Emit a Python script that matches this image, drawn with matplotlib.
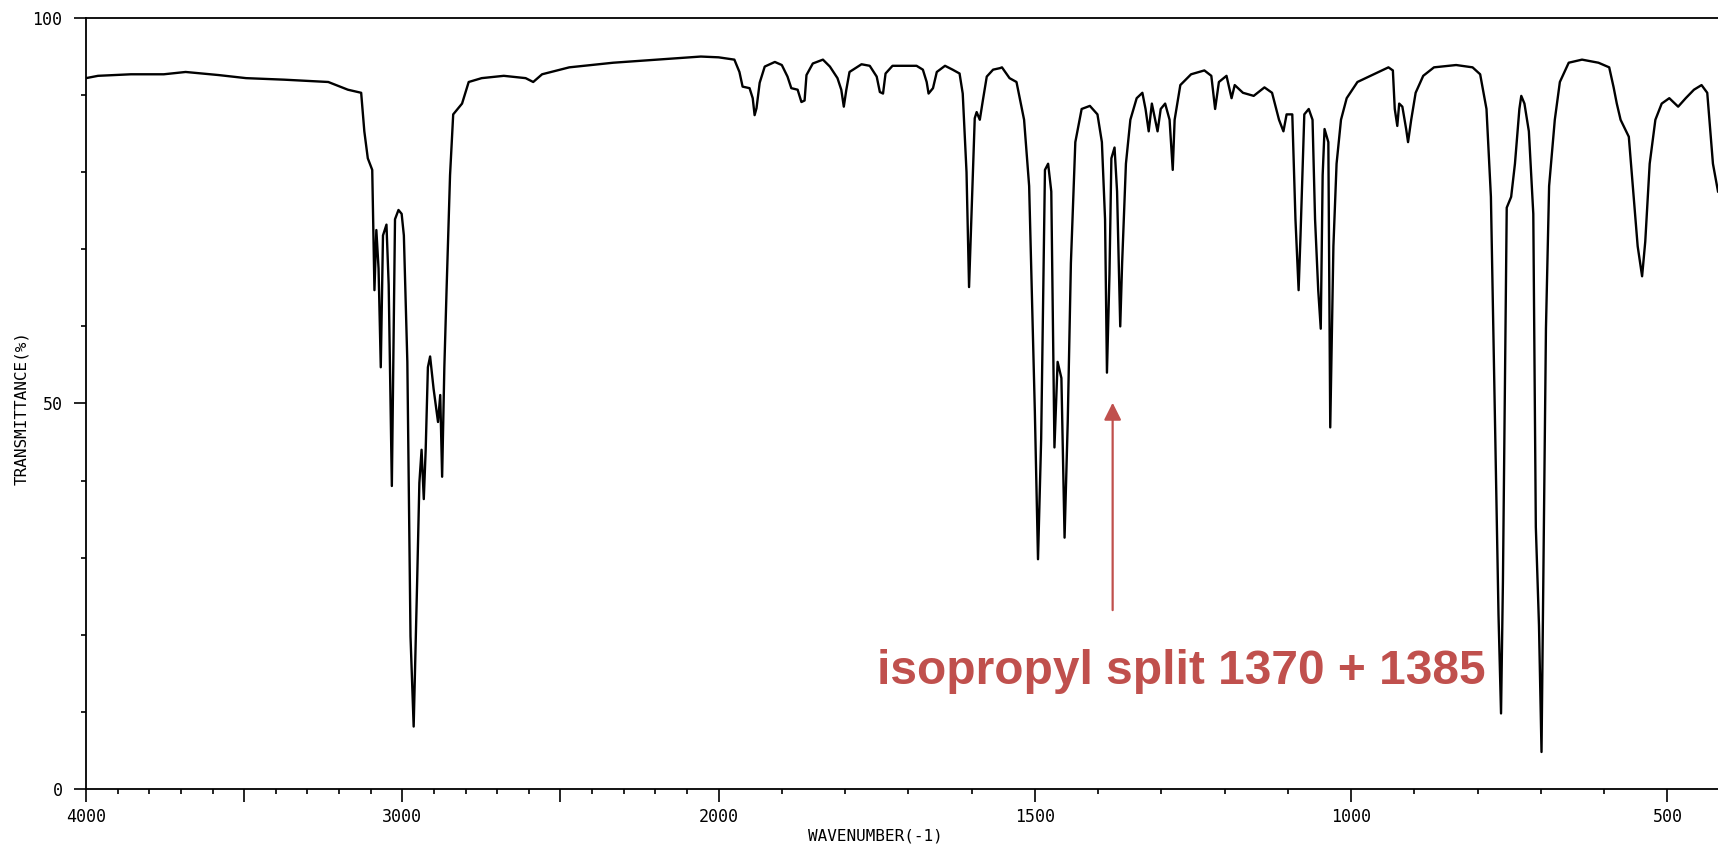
import numpy as np
import matplotlib
matplotlib.use("Agg")
import matplotlib.pyplot as plt
from matplotlib.ticker import FixedLocator, FixedFormatter

# ---- data (wavenumber cm-1, transmittance %) ----
wavenumber = [
    4000, 3962, 3858, 3754, 3685, 3581, 3494, 3373, 3234, 3172, 3130,
    3120, 3109, 3095, 3088, 3082, 3075, 3068, 3061, 3050, 3043, 3033,
    3023, 3012, 3002, 2995, 2984, 2974, 2964, 2953, 2946, 2939, 2932,
    2926, 2919, 2912, 2901, 2894, 2887, 2880, 2874, 2867, 2860, 2849,
    2839, 2825, 2811, 2790, 2749, 2679, 2610, 2586, 2558, 2472, 2333,
    2194, 2056, 2000,
    1975, 1967, 1962, 1951, 1946, 1943, 1940, 1935, 1927, 1911, 1900,
    1891, 1885, 1875, 1869, 1864, 1861, 1851, 1835, 1824, 1812, 1806,
    1802, 1798, 1793, 1774, 1761, 1750, 1745, 1740, 1736, 1725, 1687,
    1677, 1671, 1668, 1661, 1655, 1642, 1630, 1619, 1614, 1608, 1604,
    1600, 1595, 1592, 1587, 1582, 1576, 1566, 1555,
    1552, 1540, 1529, 1517, 1509, 1500, 1495, 1490, 1484, 1479, 1474,
    1469, 1464, 1458, 1453, 1448, 1443, 1436, 1426, 1413, 1401, 1394,
    1389, 1386, 1382, 1379, 1374, 1370, 1365, 1362, 1356, 1349, 1339,
    1330, 1325, 1320, 1315, 1306, 1301, 1294, 1287, 1282, 1279, 1270,
    1253, 1232, 1221, 1215, 1209, 1197, 1189, 1184, 1171, 1154, 1137,
    1125, 1114, 1107, 1102, 1093, 1088, 1083, 1080, 1074, 1067, 1061,
    1057, 1052, 1048, 1045, 1042, 1036, 1033, 1028, 1023, 1016, 1007,
    990, 964, 941, 934, 931, 927, 924, 919, 913, 910, 905, 898, 886,
    869, 834, 808, 796, 786, 779, 772, 767, 763, 760, 754, 747, 741,
    734, 731, 726, 719, 712, 708, 703, 699, 696, 692, 687, 678, 670,
    656, 635, 609, 592, 585, 580, 574, 567, 561, 554, 547, 540, 535,
    528, 519, 509, 497, 483, 471, 458, 446, 437, 428, 420,
]
transmittance = [
    92.2, 92.5, 92.7, 92.7, 93.0, 92.6, 92.2, 92.0, 91.7, 90.7, 90.3,
    85.3, 81.8, 80.3, 64.7, 72.5, 67.5, 54.7, 71.8, 73.2, 65.4, 39.3,
    73.9, 75.1, 74.6, 71.8, 55.4, 19.8, 8.1, 26.9, 39.7, 44.0, 37.6,
    44.0, 54.7, 56.1, 51.9, 49.7, 47.6, 51.1, 40.5, 54.7, 64.7, 79.6,
    87.5, 88.2, 88.9, 91.7, 92.2, 92.5, 92.2, 91.7, 92.7, 93.6, 94.2,
    94.6, 95.0, 94.9,
    94.6, 93.0, 91.1, 90.9, 89.6, 87.4, 88.3, 91.6, 93.7, 94.3, 93.9,
    92.4, 90.9, 90.7, 89.1, 89.3, 92.6, 94.1, 94.6, 93.7, 92.2, 90.7,
    88.5, 90.7, 93.0, 94.0, 93.8, 92.4, 90.4, 90.2, 92.8, 93.8, 93.8,
    93.3, 91.7, 90.2, 90.9, 93.0, 93.8, 93.3, 92.8, 90.2, 80.0, 65.1,
    75.0, 87.0, 87.8, 86.8, 89.4, 92.4, 93.3, 93.5,
    93.6, 92.2, 91.7, 86.8, 78.2, 49.0, 29.8, 45.4, 80.3, 81.1, 77.5,
    44.3, 55.4, 53.3, 32.6, 47.6, 68.2, 83.9, 88.2, 88.6, 87.5, 83.9,
    73.9, 54.0, 66.8, 81.8, 83.2, 77.5, 60.0, 68.2, 81.1, 86.8, 89.6,
    90.3, 88.2, 85.3, 88.9, 85.3, 88.2, 88.9, 86.8, 80.3, 86.8, 91.3,
    92.7, 93.2, 92.5, 88.2, 91.7, 92.5, 89.6, 91.3, 90.3, 89.9, 91.0,
    90.3, 86.8, 85.3, 87.5, 87.5, 73.9, 64.7, 71.8, 87.5, 88.2, 86.8,
    73.9, 64.7, 59.7, 79.6, 85.6, 83.9, 46.9, 70.4, 81.1, 86.8, 89.6,
    91.7, 92.7, 93.6, 93.2, 88.2, 86.0, 88.9, 88.5, 85.6, 83.9, 86.8, 90.3, 92.5,
    93.6, 93.9, 93.6, 92.7, 88.2, 76.8, 45.4, 22.6, 9.8, 26.9, 75.4, 76.8, 81.1,
    88.2, 89.9, 88.9, 85.3, 74.6, 34.0, 21.2, 4.8, 28.3, 59.7, 78.2, 86.8, 91.7,
    94.2, 94.6, 94.2, 93.6, 91.0, 88.9, 86.8, 85.6, 84.6, 77.5, 70.4, 66.5, 71.0,
    81.1, 86.8, 88.9, 89.6, 88.5, 89.6, 90.7, 91.3, 90.3, 81.1, 77.5,
]

x_major = [4000, 3500, 3000, 2500, 2000, 1500, 1000, 500]
x_major_labels = ["4000", "", "3000", "", "2000", "1500", "1000", "500"]
y_major = [0, 50, 100]
y_major_labels = ["0", "50", "100"]

annot_text = "isopropyl split 1370 + 1385"
annot_color = "#C0504D"


def fwd(w):
    w = np.asarray(w, dtype=float)
    return np.where(w > 2000, 2000 + (w - 2000) / 2.0, w)


def inv(u):
    u = np.asarray(u, dtype=float)
    return np.where(u > 2000, 2000 + (u - 2000) * 2.0, u)


fig = plt.figure(figsize=(17.18, 8.46), dpi=100)
ax = fig.add_axes([86 / 1718, 1 - 789 / 846, 1 - 86 / 1718, (789 - 18) / 846])
ax.set_xscale("function", functions=(fwd, inv))

ax.plot(wavenumber, transmittance, color="black", lw=1.7)

ax.set_xlim(4000, 420)
ax.set_ylim(0, 100)

ax.xaxis.set_major_locator(FixedLocator(x_major))
ax.xaxis.set_major_formatter(FixedFormatter(x_major_labels))
minor_x = [w for w in range(4000, 400, -100) if w not in x_major]
ax.xaxis.set_minor_locator(FixedLocator(minor_x))
ax.yaxis.set_major_locator(FixedLocator(y_major))
ax.yaxis.set_major_formatter(FixedFormatter(y_major_labels))
ax.yaxis.set_minor_locator(FixedLocator([v for v in range(10, 100, 10) if v != 50]))

for s in ["left", "bottom", "top"]:
    ax.spines[s].set_linewidth(1.3)
ax.spines["right"].set_visible(False)

ax.tick_params(axis="both", which="major", direction="out", length=9, width=1.2,
               labelsize=12, pad=5)
ax.tick_params(axis="both", which="minor", direction="out", length=3.8, width=1.2)
ax.tick_params(axis="y", which="major", pad=8)
for lab in ax.get_xticklabels() + ax.get_yticklabels():
    lab.set_fontfamily("DejaVu Sans Mono")

fig.text(875 / 1718, 1 - 836 / 846, "WAVENUMBER(-1)", ha="center", va="center",
         fontsize=11.5, family="DejaVu Sans Mono")
fig.text(22 / 1718, 1 - 408 / 846, "TRANSMITTANCE(%)", ha="center", va="center",
         rotation=90, fontsize=11.5, family="DejaVu Sans Mono")

ax.annotate("", xy=(1377, 50.1), xytext=(1377, 23.2),
            arrowprops=dict(arrowstyle="-|>", color=annot_color, lw=1.6,
                            mutation_scale=26, shrinkA=0, shrinkB=0))
ax.text(1269, 15.3, annot_text, ha="center", va="center", fontsize=34.5,
        fontweight="bold", family="Liberation Sans", color=annot_color)

fig.savefig("out.png", dpi=100)
